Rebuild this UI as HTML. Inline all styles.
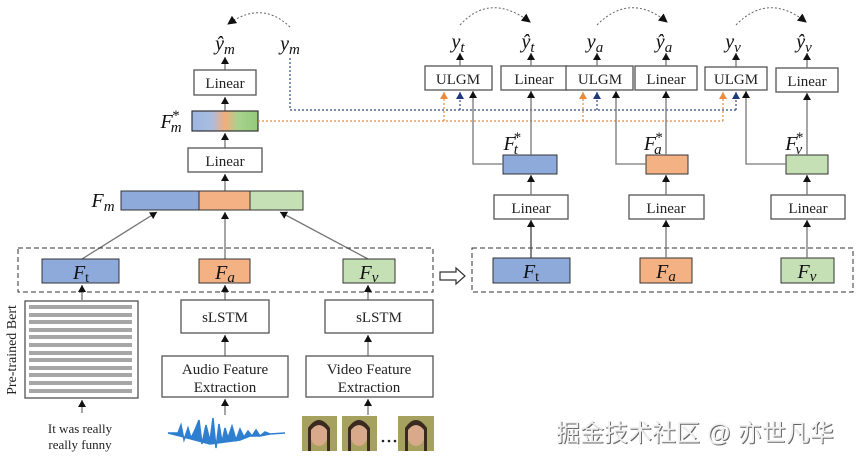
<!DOCTYPE html>
<html><head><meta charset="utf-8"><style>
html,body{margin:0;padding:0;background:#fff;}
svg{display:block;}
.t{font-family:"Liberation Serif",serif;font-size:15px;fill:#222;text-anchor:middle;}
.m{font-family:"Liberation Serif",serif;font-style:italic;font-size:20px;fill:#111;text-anchor:middle;}
.s{font-family:"Liberation Serif",serif;font-style:italic;font-size:15px;fill:#111;}
.box{fill:#fff;stroke:#555;stroke-width:1.3;}
.ln{stroke:#777;stroke-width:1.3;fill:none;}
</style></head><body>
<svg width="857" height="462" viewBox="0 0 857 462" xmlns="http://www.w3.org/2000/svg">
<defs>
<marker id="a" markerWidth="8" markerHeight="8" refX="7" refY="4" orient="auto" markerUnits="userSpaceOnUse"><path d="M0,0 L7,4 L0,8 Z" fill="#111"/></marker>
<marker id="ao" markerWidth="8" markerHeight="8" refX="7" refY="4" orient="auto" markerUnits="userSpaceOnUse"><path d="M0,0 L7,4 L0,8 Z" fill="#e98b3a"/></marker>
<marker id="ab" markerWidth="8" markerHeight="8" refX="7" refY="4" orient="auto" markerUnits="userSpaceOnUse"><path d="M0,0 L7,4 L0,8 Z" fill="#1f3a7a"/></marker>
<marker id="ad" markerWidth="10" markerHeight="10" refX="8" refY="4.5" orient="auto" markerUnits="userSpaceOnUse"><path d="M0,0 L9,4.5 L0,9 Z" fill="#111"/></marker>
<linearGradient id="g" x1="0" x2="1"><stop offset="0" stop-color="#9db7e0"/><stop offset="0.3" stop-color="#a9bde0"/><stop offset="0.5" stop-color="#f2ad7c"/><stop offset="0.7" stop-color="#a8d38e"/><stop offset="1" stop-color="#93c97a"/></linearGradient>
</defs>

<!-- left top -->
<path d="M290,27 Q262,0 228,24" stroke="#666" stroke-dasharray="2,2" fill="none" marker-end="url(#ad)"/>
<text class="m" x="225" y="50">ŷ<tspan class="s" dy="4">m</tspan></text>
<text class="m" x="290" y="50">y<tspan class="s" dy="4">m</tspan></text>
<line class="ln" x1="225" y1="70" x2="225" y2="57" marker-end="url(#a)"/>
<rect class="box" x="194" y="70" width="62" height="25"/><text class="t" x="225" y="88">Linear</text>
<line class="ln" x1="225" y1="111" x2="225" y2="97" marker-end="url(#a)"/>
<rect x="192" y="111" width="66" height="20" fill="url(#g)" stroke="#333" stroke-width="1.2"/>
<text class="m" x="171" y="128">F<tspan class="s" dy="4" dx="-2">m</tspan><tspan class="s" dy="-12" dx="-10">*</tspan></text>
<line class="ln" x1="225" y1="148" x2="225" y2="133" marker-end="url(#a)"/>
<rect class="box" x="188" y="148" width="74" height="24"/><text class="t" x="225" y="166">Linear</text>
<line class="ln" x1="225" y1="191" x2="225" y2="174" marker-end="url(#a)"/>
<rect x="121" y="191" width="78" height="19" fill="#8eaadb" stroke="#333"/>
<rect x="199" y="191" width="51" height="19" fill="#f4b183" stroke="#333"/>
<rect x="250" y="191" width="53" height="19" fill="#c5e0b4" stroke="#333"/>
<text class="m" x="103" y="207">F<tspan class="s" dy="4">m</tspan></text>
<line class="ln" x1="82" y1="259" x2="157" y2="212" marker-end="url(#a)"/>
<line class="ln" x1="225" y1="259" x2="225" y2="212" marker-end="url(#a)"/>
<line class="ln" x1="368" y1="259" x2="280" y2="212" marker-end="url(#a)"/>

<rect x="18" y="248" width="415" height="44" fill="none" stroke="#333" stroke-dasharray="5,3"/>
<rect x="42" y="259" width="77" height="24" fill="#8eaadb" stroke="#333"/>
<rect x="199" y="259" width="51" height="24" fill="#f4b183" stroke="#333"/>
<rect x="343" y="259" width="52" height="24" fill="#c5e0b4" stroke="#333"/>
<text class="m" x="81" y="279">F<tspan font-style="normal" font-size="14" dy="3">t</tspan></text>
<text class="m" x="225" y="279">F<tspan class="s" dy="3">a</tspan></text>
<text class="m" x="369" y="279">F<tspan class="s" dy="3">v</tspan></text>

<!-- bottom left -->
<line class="ln" x1="82" y1="300" x2="82" y2="285" marker-end="url(#a)"/>
<rect x="25" y="301" width="113" height="97" fill="#fff" stroke="#444" stroke-width="1.2"/>
<g fill="#a6a6a6">
<rect x="29" y="305" width="103" height="4"/><rect x="29" y="313" width="103" height="4"/><rect x="29" y="320" width="103" height="4"/><rect x="29" y="328" width="103" height="4"/><rect x="29" y="335" width="103" height="4"/><rect x="29" y="343" width="103" height="4"/><rect x="29" y="351" width="103" height="4"/><rect x="29" y="358" width="103" height="4"/><rect x="29" y="366" width="103" height="4"/><rect x="29" y="373" width="103" height="4"/><rect x="29" y="381" width="103" height="4"/><rect x="29" y="389" width="103" height="4"/>
</g>
<text class="t" transform="translate(16,350) rotate(-90)" style="font-size:14px">Pre-trained  Bert</text>
<line class="ln" x1="82" y1="413" x2="82" y2="400" marker-end="url(#a)"/>
<text class="t" x="80" y="433" style="font-size:13px">It was really</text>
<text class="t" x="80" y="449" style="font-size:13px">really  funny</text>

<line class="ln" x1="225" y1="300" x2="225" y2="285" marker-end="url(#a)"/>
<rect class="box" x="181" y="300" width="88" height="33"/><text class="t" x="225" y="322">sLSTM</text>
<line class="ln" x1="225" y1="356" x2="225" y2="335" marker-end="url(#a)"/>
<rect class="box" x="162" y="356" width="126" height="41"/><text class="t" x="225" y="374">Audio Feature</text><text class="t" x="225" y="392">Extraction</text>
<line class="ln" x1="225" y1="415" x2="225" y2="399" marker-end="url(#a)"/>
<line class="ln" x1="368" y1="300" x2="368" y2="285" marker-end="url(#a)"/>
<rect class="box" x="325" y="300" width="108" height="33"/><text class="t" x="379" y="322">sLSTM</text>
<line class="ln" x1="368" y1="356" x2="368" y2="335" marker-end="url(#a)"/>
<rect class="box" x="306" y="356" width="127" height="41"/><text class="t" x="369" y="374">Video Feature</text><text class="t" x="369" y="392">Extraction</text>
<line class="ln" x1="368" y1="415" x2="368" y2="399" marker-end="url(#a)"/>

<!-- waveform -->
<path d="M168,433 L178,433 L181,425 L184,440 L188,428 L191,438 L195,430 L199,420 L202,444 L206,425 L210,441 L213,418 L216,448 L219,424 L222,442 L225,428 L228,438 L232,426 L236,440 L240,429 L244,437 L248,431 L252,436 L256,430 L260,436 L265,432 L270,434 L285,433 L270,434 L260,436 L250,436 L240,440 L225,442 L210,444 L195,440 L180,436 Z" fill="#2f7fd0" stroke="#2f7fd0" stroke-width="1.5"/>
<!-- faces -->
<g>
<rect x="302" y="416" width="35" height="35" fill="#a7a160"/><ellipse cx="319" cy="434" rx="9" ry="12" fill="#d8a98a"/><path d="M308,428 Q319,412 330,428 L330,451 L327,451 L327,430 Q319,420 311,430 L311,451 L308,451 Z" fill="#3a2a20"/>
<rect x="342" y="416" width="35" height="35" fill="#a7a160"/><ellipse cx="359" cy="434" rx="9" ry="12" fill="#d8a98a"/><path d="M348,428 Q359,412 370,428 L370,451 L367,451 L367,430 Q359,420 351,430 L351,451 L348,451 Z" fill="#3a2a20"/>
<rect x="398" y="416" width="36" height="35" fill="#a7a160"/><ellipse cx="416" cy="434" rx="9" ry="12" fill="#d8a98a"/><path d="M405,428 Q416,412 427,428 L427,451 L424,451 L424,430 Q416,420 408,430 L408,451 L405,451 Z" fill="#3a2a20"/>
<circle cx="383" cy="441" r="1.3" fill="#222"/><circle cx="389" cy="441" r="1.3" fill="#222"/><circle cx="395" cy="441" r="1.3" fill="#222"/>
</g>

<!-- arrow between -->
<path d="M440,272 L456,272 L456,268 L465,276 L456,284 L456,280 L440,280 Z" fill="#fff" stroke="#333" stroke-width="1.2"/>

<!-- dotted lines -->
<path d="M290,58 L290,110 L736,110" stroke="#2f4a8a" stroke-dasharray="2,2" fill="none" stroke-width="1.2"/>
<path d="M258,121 L723,121" stroke="#e98b3a" stroke-dasharray="2,2" fill="none" stroke-width="1.2"/>
<g stroke-dasharray="2,2" stroke-width="1.2" fill="none">
<line x1="444" y1="121" x2="444" y2="92" stroke="#e98b3a" marker-end="url(#ao)"/>
<line x1="583" y1="121" x2="583" y2="92" stroke="#e98b3a" marker-end="url(#ao)"/>
<line x1="723" y1="121" x2="723" y2="92" stroke="#e98b3a" marker-end="url(#ao)"/>
<line x1="460" y1="110" x2="460" y2="92" stroke="#2f4a8a" marker-end="url(#ab)"/>
<line x1="597" y1="110" x2="597" y2="92" stroke="#2f4a8a" marker-end="url(#ab)"/>
<line x1="736" y1="110" x2="736" y2="92" stroke="#2f4a8a" marker-end="url(#ab)"/>
</g>

<!-- right dashed box -->
<rect x="472" y="248" width="381" height="44" fill="none" stroke="#333" stroke-dasharray="5,3"/>
<rect x="493" y="258" width="77" height="25" fill="#8eaadb" stroke="#333"/>
<rect x="640" y="258" width="52" height="25" fill="#f4b183" stroke="#333"/>
<rect x="781" y="258" width="53" height="25" fill="#c5e0b4" stroke="#333"/>
<text class="m" x="531" y="278">F<tspan font-style="normal" font-size="14" dy="3">t</tspan></text>
<text class="m" x="666" y="278">F<tspan class="s" dy="3">a</tspan></text>
<text class="m" x="807" y="278">F<tspan class="s" dy="3">v</tspan></text>

<g>
<line class="ln" x1="531" y1="258" x2="531" y2="220" marker-end="url(#a)" style="stroke:#444"/>
<line class="ln" x1="666" y1="258" x2="666" y2="220" marker-end="url(#a)"/>
<line class="ln" x1="807" y1="258" x2="807" y2="220" marker-end="url(#a)"/>
<rect class="box" x="494" y="195" width="74" height="24"/><text class="t" x="531" y="213">Linear</text>
<rect class="box" x="629" y="195" width="75" height="24"/><text class="t" x="666" y="213">Linear</text>
<rect class="box" x="771" y="195" width="74" height="24"/><text class="t" x="808" y="213">Linear</text>
<line class="ln" x1="531" y1="195" x2="531" y2="175" marker-end="url(#a)"/>
<line class="ln" x1="666" y1="195" x2="666" y2="175" marker-end="url(#a)"/>
<line class="ln" x1="807" y1="195" x2="807" y2="175" marker-end="url(#a)"/>
<rect x="503" y="155" width="54" height="19" fill="#8eaadb" stroke="#333"/>
<rect x="646" y="155" width="42" height="19" fill="#f4b183" stroke="#333"/>
<rect x="786" y="155" width="42" height="19" fill="#c5e0b4" stroke="#333"/>
<text class="m" x="512" y="150">F<tspan class="s" dy="4" dx="-2">t</tspan><tspan class="s" dy="-12" dx="-5">*</tspan></text>
<text class="m" x="653" y="150">F<tspan class="s" dy="4" dx="-2">a</tspan><tspan class="s" dy="-12" dx="-7">*</tspan></text>
<text class="m" x="794" y="150">F<tspan class="s" dy="4" dx="-2">v</tspan><tspan class="s" dy="-12" dx="-7">*</tspan></text>
<line class="ln" x1="531" y1="155" x2="531" y2="91" marker-end="url(#a)"/>
<line class="ln" x1="666" y1="155" x2="666" y2="91" marker-end="url(#a)"/>
<line class="ln" x1="807" y1="155" x2="807" y2="93" marker-end="url(#a)"/>
<path class="ln" d="M503,164 L473,164 L473,91" marker-end="url(#a)"/>
<path class="ln" d="M646,164 L616,164 L616,91" marker-end="url(#a)"/>
<path class="ln" d="M786,164 L746,164 L746,91" marker-end="url(#a)"/>
<rect class="box" x="425" y="66" width="67" height="24"/><text class="t" x="458" y="84">ULGM</text>
<rect class="box" x="501" y="66" width="66" height="24"/><text class="t" x="534" y="84">Linear</text>
<rect class="box" x="566" y="66" width="67" height="24"/><text class="t" x="600" y="84">ULGM</text>
<rect class="box" x="635" y="66" width="62" height="24"/><text class="t" x="666" y="84">Linear</text>
<rect class="box" x="705" y="67" width="62" height="23"/><text class="t" x="736" y="84">ULGM</text>
<rect class="box" x="776" y="68" width="62" height="24"/><text class="t" x="807" y="86">Linear</text>
<line class="ln" x1="460" y1="66" x2="460" y2="53" marker-end="url(#a)"/>
<line class="ln" x1="531" y1="66" x2="531" y2="53" marker-end="url(#a)"/>
<line class="ln" x1="597" y1="66" x2="597" y2="53" marker-end="url(#a)"/>
<line class="ln" x1="666" y1="66" x2="666" y2="53" marker-end="url(#a)"/>
<line class="ln" x1="736" y1="67" x2="736" y2="53" marker-end="url(#a)"/>
<line class="ln" x1="807" y1="68" x2="807" y2="53" marker-end="url(#a)"/>
<text class="m" x="458" y="48">y<tspan class="s" dy="4">t</tspan></text>
<text class="m" x="528" y="48">ŷ<tspan class="s" dy="4">t</tspan></text>
<text class="m" x="595" y="48">y<tspan class="s" dy="4">a</tspan></text>
<text class="m" x="664" y="48">ŷ<tspan class="s" dy="4">a</tspan></text>
<text class="m" x="733" y="48">y<tspan class="s" dy="4">v</tspan></text>
<text class="m" x="804" y="48">ŷ<tspan class="s" dy="4">v</tspan></text>
<path d="M460,25 Q490,-8 530,22" stroke="#666" stroke-dasharray="2,2" fill="none" marker-end="url(#ad)"/>
<path d="M597,25 Q630,-8 667,22" stroke="#666" stroke-dasharray="2,2" fill="none" marker-end="url(#ad)"/>
<path d="M736,25 Q768,-8 806,22" stroke="#666" stroke-dasharray="2,2" fill="none" marker-end="url(#ad)"/>
</g>

<!-- watermark -->
<text x="557" y="442" style="font-family:'Liberation Sans','Noto Sans CJK SC',sans-serif;font-size:24px;fill:#666">掘金技术社区 @ 亦世凡华</text>
<text x="556" y="441" style="font-family:'Liberation Sans','Noto Sans CJK SC',sans-serif;font-size:24px;fill:#f0f0f0">掘金技术社区 @ 亦世凡华</text>
</svg>
</body></html>
